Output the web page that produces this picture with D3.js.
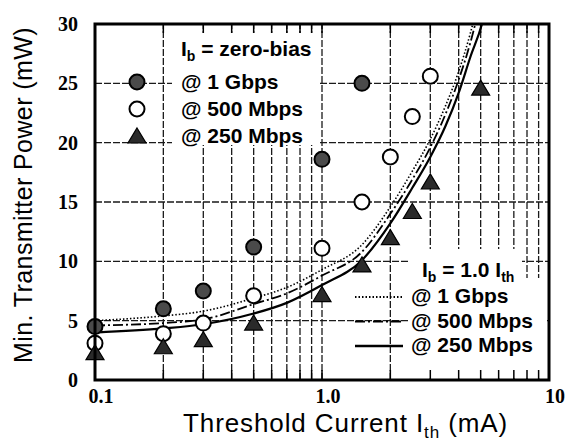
<!DOCTYPE html>
<html>
<head>
<meta charset="utf-8">
<script src="https://cdn.jsdelivr.net/npm/d3@7"></script>
<style>
body { margin: 0; background: #fff; }
</style>
</head>
<body>
<svg id="chart" width="566" height="446"></svg>
<script>
// 零偏置测量点 (Ith, mA -> 功率 mW)
const ith1G = [0.1, 0.2, 0.3, 0.5, 1.0, 1.5];
const pw1G = [4.5, 6.0, 7.5, 11.2, 18.6, 25.0];
const ith500M = [0.1, 0.2, 0.3, 0.5, 1.0, 1.5, 2.0, 2.5, 3.0];
const pw500M = [3.1, 3.9, 4.8, 7.1, 11.1, 15.0, 18.8, 22.2, 25.6];
const ith250M = [0.1, 0.2, 0.3, 0.5, 1.0, 1.5, 2.0, 2.5, 3.0, 5.0];
const pw250M = [2.3, 2.8, 3.4, 4.8, 7.2, 9.7, 12.0, 14.2, 16.7, 24.6];

// Ib = 1.0 Ith 曲线
const curveIth = [0.1, 0.2, 0.3, 0.5, 0.7, 1.0, 1.5, 2.0, 2.5, 3.0, 3.5, 4.0, 4.5, 5.1, 5.5];
const curve1G = [5.0, 5.4, 5.8, 6.9, 7.8, 9.3, 11.4, 14.6, 17.6, 20.3, 23.1, 26.0, 29.2, 33.5, 36.5];
const curve500M = [4.6, 4.8, 5.1, 6.4, 7.3, 8.8, 10.8, 14.0, 16.9, 19.6, 22.4, 25.3, 28.4, 32.6, 35.5];
const curve250M = [4.0, 4.35, 4.7, 5.6, 6.5, 8.0, 10.1, 13.2, 16.2, 18.8, 21.4, 24.2, 27.2, 30.2, 33.0];

// 坐标轴
const xTickVals = [0.1, 1, 10];
const xTickText = ["0.1", "1.0", "10"];
const yTickVals = [0, 5, 10, 15, 20, 25, 30];
const gridX = [0.2, 0.3, 0.4, 0.5, 0.6, 0.7, 0.8, 0.9, 1, 2, 3, 4, 5, 6, 7, 8, 9];
const gridY = [5, 10, 15, 20, 25];

const svg = d3.select("#chart");
const sans = "'Liberation Sans', Arial, sans-serif";
const serif = "'Liberation Serif', 'Times New Roman', serif";

const x = d3.scaleLog().domain([0.1, 10]).range([95, 549]);
const y = d3.scaleLinear().domain([0, 30]).range([380, 24]);

svg.append("defs").append("clipPath").attr("id", "plot")
    .append("rect")
    .attr("x", x(0.1)).attr("y", y(30))
    .attr("width", x(10) - x(0.1)).attr("height", y(0) - y(30));

// 网格线
svg.append("g").selectAll("line")
    .data(gridX).join("line")
    .attr("x1", d => x(d)).attr("x2", d => x(d))
    .attr("y1", y(0)).attr("y2", y(30))
    .attr("stroke", "#1a1a1a").attr("stroke-width", 1.3)
    .attr("stroke-dasharray", "7,2");

svg.append("g").selectAll("line")
    .data(gridY).join("line")
    .attr("x1", x(0.1)).attr("x2", x(10))
    .attr("y1", d => y(d)).attr("y2", d => y(d))
    .attr("stroke", "#1a1a1a").attr("stroke-width", 1.3)
    .attr("stroke-dasharray", "7,2");

// 图例底色（遮住网格）
svg.append("rect").attr("x", 172).attr("y", 33).attr("width", 146).attr("height", 112).attr("fill", "#fff");
svg.append("path").attr("d", "M408,249H522V278H547V378H408Z").attr("fill", "#fff");

// 上下刻度（向内）
svg.append("g").selectAll("line")
    .data(gridX).join("line")
    .attr("x1", d => x(d)).attr("x2", d => x(d))
    .attr("y1", y(30)).attr("y2", y(30) + 9)
    .attr("stroke", "#000").attr("stroke-width", 1.5);
svg.append("g").selectAll("line")
    .data(gridX).join("line")
    .attr("x1", d => x(d)).attr("x2", d => x(d))
    .attr("y1", y(0)).attr("y2", y(0) - 10)
    .attr("stroke", "#000").attr("stroke-width", 1.5);

// 曲线
const line = d3.line()
    .x(d => x(d[0]))
    .y(d => y(d[1]))
    .curve(d3.curveMonotoneX);

const curves = [
    { vals: curve1G, dash: "1.5,2", w: 1.6 },
    { vals: curve500M, dash: "10,3,2,3", w: 1.8 },
    { vals: curve250M, dash: null, w: 2.2 }
];
const cg = svg.append("g").attr("clip-path", "url(#plot)");
curves.forEach(c => {
    cg.append("path")
        .datum(curveIth.map((v, i) => [v, c.vals[i]]))
        .attr("d", line)
        .attr("fill", "none")
        .attr("stroke", "#000")
        .attr("stroke-width", c.w)
        .attr("stroke-dasharray", c.dash);
});

// 标记
const tri = "M0,-8L9,7L-9,7Z";
function drawCircles(xs, ys, fill) {
    svg.append("g").selectAll("circle")
        .data(xs.map((v, i) => [v, ys[i]])).join("circle")
        .attr("cx", d => x(d[0])).attr("cy", d => y(d[1]))
        .attr("r", 7.5)
        .attr("fill", fill).attr("stroke", "#000").attr("stroke-width", 2);
}
drawCircles(ith1G, pw1G, "#4a4a4a");
drawCircles(ith500M, pw500M, "#fff");
svg.append("g").selectAll("path")
    .data(ith250M.map((v, i) => [v, pw250M[i]])).join("path")
    .attr("d", tri)
    .attr("transform", d => `translate(${x(d[0])},${y(d[1])})`)
    .attr("fill", "#2a2a2a").attr("stroke", "#000").attr("stroke-width", 1.2);

// 边框
svg.append("rect")
    .attr("x", x(0.1)).attr("y", y(30))
    .attr("width", x(10) - x(0.1)).attr("height", y(0) - y(30))
    .attr("fill", "none").attr("stroke", "#000").attr("stroke-width", 3);

// 刻度标签
svg.append("g").selectAll("text")
    .data(yTickVals).join("text")
    .attr("x", 78).attr("y", d => y(d) + 7)
    .attr("text-anchor", "end")
    .attr("font-family", serif).attr("font-weight", "bold").attr("font-size", 20)
    .text(d => d);

svg.append("g").selectAll("text")
    .data(xTickVals).join("text")
    .attr("x", d => x(d) + 6).attr("y", 403)
    .attr("text-anchor", "middle")
    .attr("font-family", serif).attr("font-weight", "bold").attr("font-size", 20)
    .text((d, i) => xTickText[i]);

// 轴标题
svg.append("text")
    .attr("transform", "translate(32,195) rotate(-90)")
    .attr("text-anchor", "middle")
    .attr("font-family", sans).attr("font-size", 25)
    .attr("letter-spacing", 0.4)
    .text("Min. Transmitter Power (mW)");

const xt = svg.append("text")
    .attr("x", 183).attr("y", 432)
    .attr("font-family", sans).attr("font-size", 26)
    .attr("letter-spacing", 0.9);
xt.append("tspan").text("Threshold Current I");
xt.append("tspan").attr("dy", 6).attr("font-size", 17).text("th");
xt.append("tspan").attr("dy", -6).text(" (mA)");

// 图例一：零偏置
const lg1 = svg.append("g").attr("font-family", sans).attr("font-weight", "bold").attr("font-size", 21);
const t1 = lg1.append("text").attr("x", 181).attr("y", 56);
t1.append("tspan").text("I");
t1.append("tspan").attr("dy", 5).attr("font-size", 14).text("b");
t1.append("tspan").attr("dy", -5).text(" = zero-bias");
const rows1 = ["@ 1 Gbps", "@ 500 Mbps", "@ 250 Mbps"];
rows1.forEach((r, i) => {
    lg1.append("text").attr("x", 181).attr("y", 89 + i * 27).text(r);
});
svg.append("circle").attr("cx", 137).attr("cy", 82).attr("r", 7.5)
    .attr("fill", "#4a4a4a").attr("stroke", "#000").attr("stroke-width", 2);
svg.append("circle").attr("cx", 137).attr("cy", 109).attr("r", 7.5)
    .attr("fill", "#fff").attr("stroke", "#000").attr("stroke-width", 2);
svg.append("path").attr("d", tri).attr("transform", "translate(137,136)")
    .attr("fill", "#2a2a2a").attr("stroke", "#000").attr("stroke-width", 1.2);

// 图例二：Ib = 1.0 Ith
const lg2 = svg.append("g").attr("font-family", sans).attr("font-weight", "bold").attr("font-size", 21);
const t2 = lg2.append("text").attr("x", 422).attr("y", 277);
t2.append("tspan").text("I");
t2.append("tspan").attr("dy", 5).attr("font-size", 14).text("b");
t2.append("tspan").attr("dy", -5).text(" = 1.0 I");
t2.append("tspan").attr("dy", 5).attr("font-size", 14).text("th");
rows1.forEach((r, i) => {
    const by = 303 + i * 24.5;
    lg2.append("text").attr("x", 411).attr("y", by).text(r);
    svg.append("line")
        .attr("x1", 355).attr("x2", 403)
        .attr("y1", by - 6).attr("y2", by - 6)
        .attr("stroke", "#000")
        .attr("stroke-width", curves[i].w + 0.4)
        .attr("stroke-dasharray", curves[i].dash);
});
</script>
</body>
</html>
